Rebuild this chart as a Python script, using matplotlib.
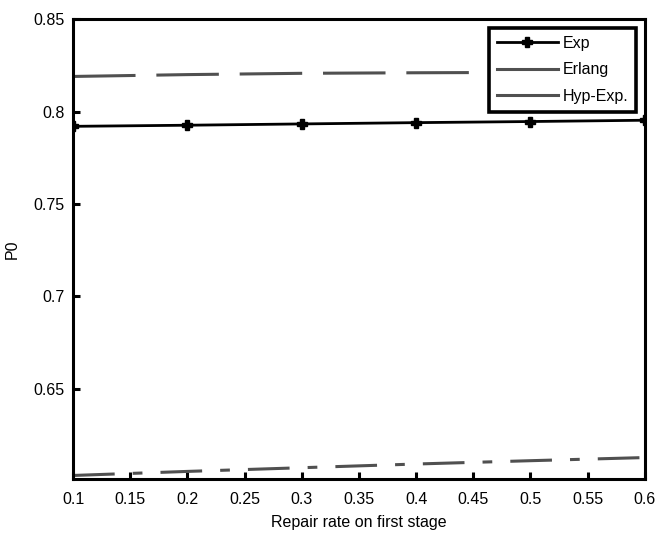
import matplotlib
matplotlib.use("Agg")
import matplotlib.pyplot as plt
from matplotlib.lines import Line2D

x = [0.1, 0.2, 0.3, 0.4, 0.5, 0.6]
p0_exp = [0.7920, 0.7926, 0.7933, 0.7940, 0.7946, 0.7953]
p0_erlang = [0.8190, 0.8200, 0.8207, 0.8210, 0.8212, 0.8213]
p0_hyp = [0.6030, 0.6052, 0.6072, 0.6092, 0.6110, 0.6127]
labels = ["Exp", "Erlang", "Hyp-Exp."]
xticks = [0.1, 0.15, 0.2, 0.25, 0.3, 0.35, 0.4, 0.45, 0.5, 0.55, 0.6]
yticks = [0.65, 0.7, 0.75, 0.8, 0.85]

plt.rcParams['font.family'] = ['Liberation Sans', 'DejaVu Sans']
plt.rcParams['lines.scale_dashes'] = False

fig = plt.figure(figsize=(6.58, 5.33), dpi=100)
ax = fig.add_axes([0.111, 0.101, 0.869, 0.863])

gray = '#505050'
fs = 11.5
ax.plot(x, p0_exp, color='black', lw=2.0, marker='P', markersize=7.5, zorder=3)
ax.plot(x, p0_erlang, color=gray, lw=2.2, dashes=(45, 15))
ax.plot(x, p0_hyp, color=gray, lw=2.2, dashes=(30, 13, 7, 13))

ax.set_xlim(0.1, 0.6)
ax.set_ylim(0.601, 0.85)
ax.set_xticks(xticks)
ax.set_xticklabels([f"{t:g}" for t in xticks])
ax.set_yticks(yticks)
ax.set_yticklabels([f"{t:g}" for t in yticks])
ax.tick_params(direction='in', length=5, width=2.2, labelsize=fs)
ax.tick_params(axis='x', pad=9)
ax.tick_params(axis='y', pad=6)
for s in ax.spines.values():
    s.set_linewidth(2.2)
ax.set_xlabel("Repair rate on first stage", fontsize=fs, labelpad=6)
ax.set_ylabel("P0", fontsize=fs, labelpad=10)

handles = [
    Line2D([], [], color='black', lw=2.0, marker='P', markersize=7.5),
    Line2D([], [], color=gray, lw=2.2),
    Line2D([], [], color=gray, lw=2.2),
]
leg = ax.legend(handles, labels, loc='upper right', fontsize=fs,
                frameon=True, fancybox=False, edgecolor='black', framealpha=1,
                borderaxespad=0.55, handlelength=3.8, labelspacing=0.72,
                handletextpad=0.3, borderpad=0.5)
leg.get_frame().set_linewidth(2.6)

fig.savefig("out.png", dpi=100)
